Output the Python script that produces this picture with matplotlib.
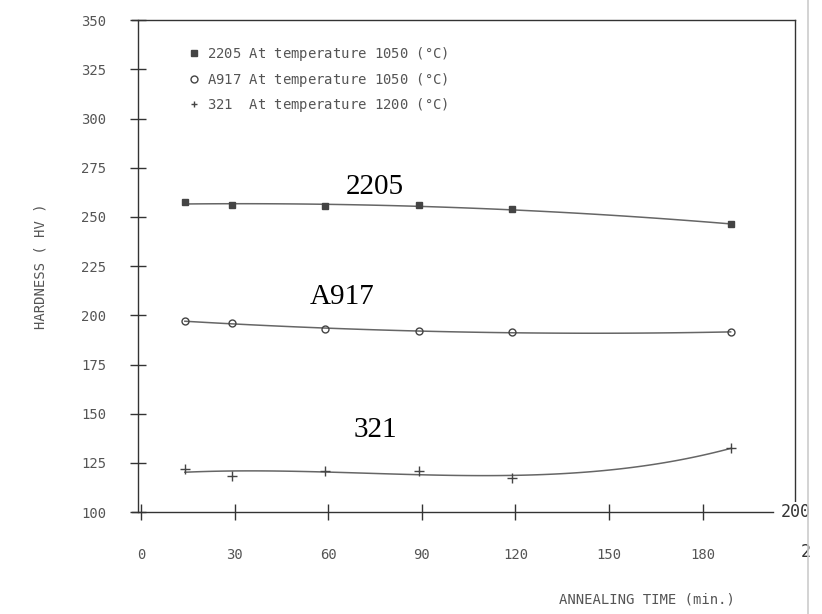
import numpy as np
import matplotlib
matplotlib.use("Agg")
import matplotlib.pyplot as plt
from matplotlib.lines import Line2D

# annealing time (min) and hardness (HV)
time_2205 = [14, 29, 59, 89, 119, 189]
hv_2205 = [257.5, 256.0, 255.5, 256.0, 254.0, 246.3]

time_a917 = [14, 29, 59, 89, 119, 189]
hv_a917 = [197.0, 196.0, 193.0, 192.0, 191.5, 191.5]

time_321 = [14, 29, 59, 89, 119, 189]
hv_321 = [121.8, 118.3, 120.8, 120.8, 117.3, 132.5]

legend_labels = ["2205 At temperature 1050 ($\\mathregular{\\degree}$C)",
                 "A917 At temperature 1050 ($\\mathregular{\\degree}$C)",
                 "321  At temperature 1200 ($\\mathregular{\\degree}$C)"]
xticks = [0, 30, 60, 90, 120, 150, 180]
yticks = [100, 125, 150, 175, 200, 225, 250, 275, 300, 325, 350]

ink = "#444444"
grey = "#555555"
mono = "DejaVu Sans Mono"

fig = plt.figure(figsize=(8.22, 6.14), dpi=100)
ax = fig.add_axes([0.168, 0.166, 0.799, 0.801])

series = [(time_2205, hv_2205, "s", ink, 5, 2),
          (time_a917, hv_a917, "o", "none", 5, 2),
          (time_321, hv_321, "+", ink, 7, 3)]
for t, hv, m, fc, ms, deg in series:
    # smooth curve like the plotter drew
    coef = np.polyfit(t, hv, deg)
    tt = np.linspace(t[0], t[-1], 100)
    ax.plot(tt, np.polyval(coef, tt), color="#666666", lw=1.1)
    ax.plot(t, hv, m, ms=ms, mfc=fc, mec=ink, mew=1.0, ls="none")

ax.set_xlim(-1, 209.6)
ax.set_ylim(100, 350)
ax.set_xticks(xticks)
ax.set_yticks(yticks)
ax.set_xticklabels([str(v) for v in xticks], family=mono, fontsize=10, color=grey)
ax.set_yticklabels([str(v) for v in yticks], family=mono, fontsize=10, color=grey)
ax.tick_params(direction="inout", length=12, width=1.0, color="#333333")
ax.tick_params(axis="y", pad=17)
ax.tick_params(axis="x", pad=20)
for s in ax.spines.values():
    s.set_color("#333333")
    s.set_linewidth(1.0)
ax.spines["bottom"].set_bounds(-3, 202.5)
ax.spines["top"].set_bounds(-3, 209.6)

ax.set_ylabel("HARDNESS ( HV )", family=mono, fontsize=10, color=grey, labelpad=24)
ax.annotate("ANNEALING TIME (min.)", xy=(190.5, 100), xycoords="data",
            xytext=(0, -63), textcoords="offset points", ha="right", va="center",
            family=mono, fontsize=10, color=grey, annotation_clip=False)

# leftover labels from the pasted scan edge
ax.annotate("200", xy=(202.5, 100), xytext=(6, 0), textcoords="offset points",
            ha="left", va="center", family=mono, fontsize=12, color="#333333",
            bbox=dict(fc="white", ec="none", pad=1), annotation_clip=False)
ax.annotate("2", xy=(209.6, 100), xytext=(4, -29), textcoords="offset points",
            ha="left", va="center", family=mono, fontsize=12, color="#333333",
            annotation_clip=False)

# series names in serif
for name, x, y in [("2205", 75, 265.1), ("A917", 64.4, 209.2), ("321", 75, 141.7)]:
    ax.text(x, y, name, ha="center", va="center", family="Liberation Serif",
            fontsize=21, color="black")

handles = [Line2D([], [], marker=m, ms=5, mfc=fc, mec=ink, ls="none")
           for _, _, m, fc, _, _ in series]
leg = ax.legend(handles, legend_labels, loc="upper left", bbox_to_anchor=(0.06, 0.975),
                frameon=False, handlelength=0.6, handletextpad=0.6, labelspacing=0.55,
                prop={"family": mono, "size": 10})
for txt in leg.get_texts():
    txt.set_color(grey)

fig.add_artist(Line2D([0.983, 0.983], [0.0, 1.0], color="#cccccc", lw=1.2))
fig.savefig("out.png", dpi=100)
